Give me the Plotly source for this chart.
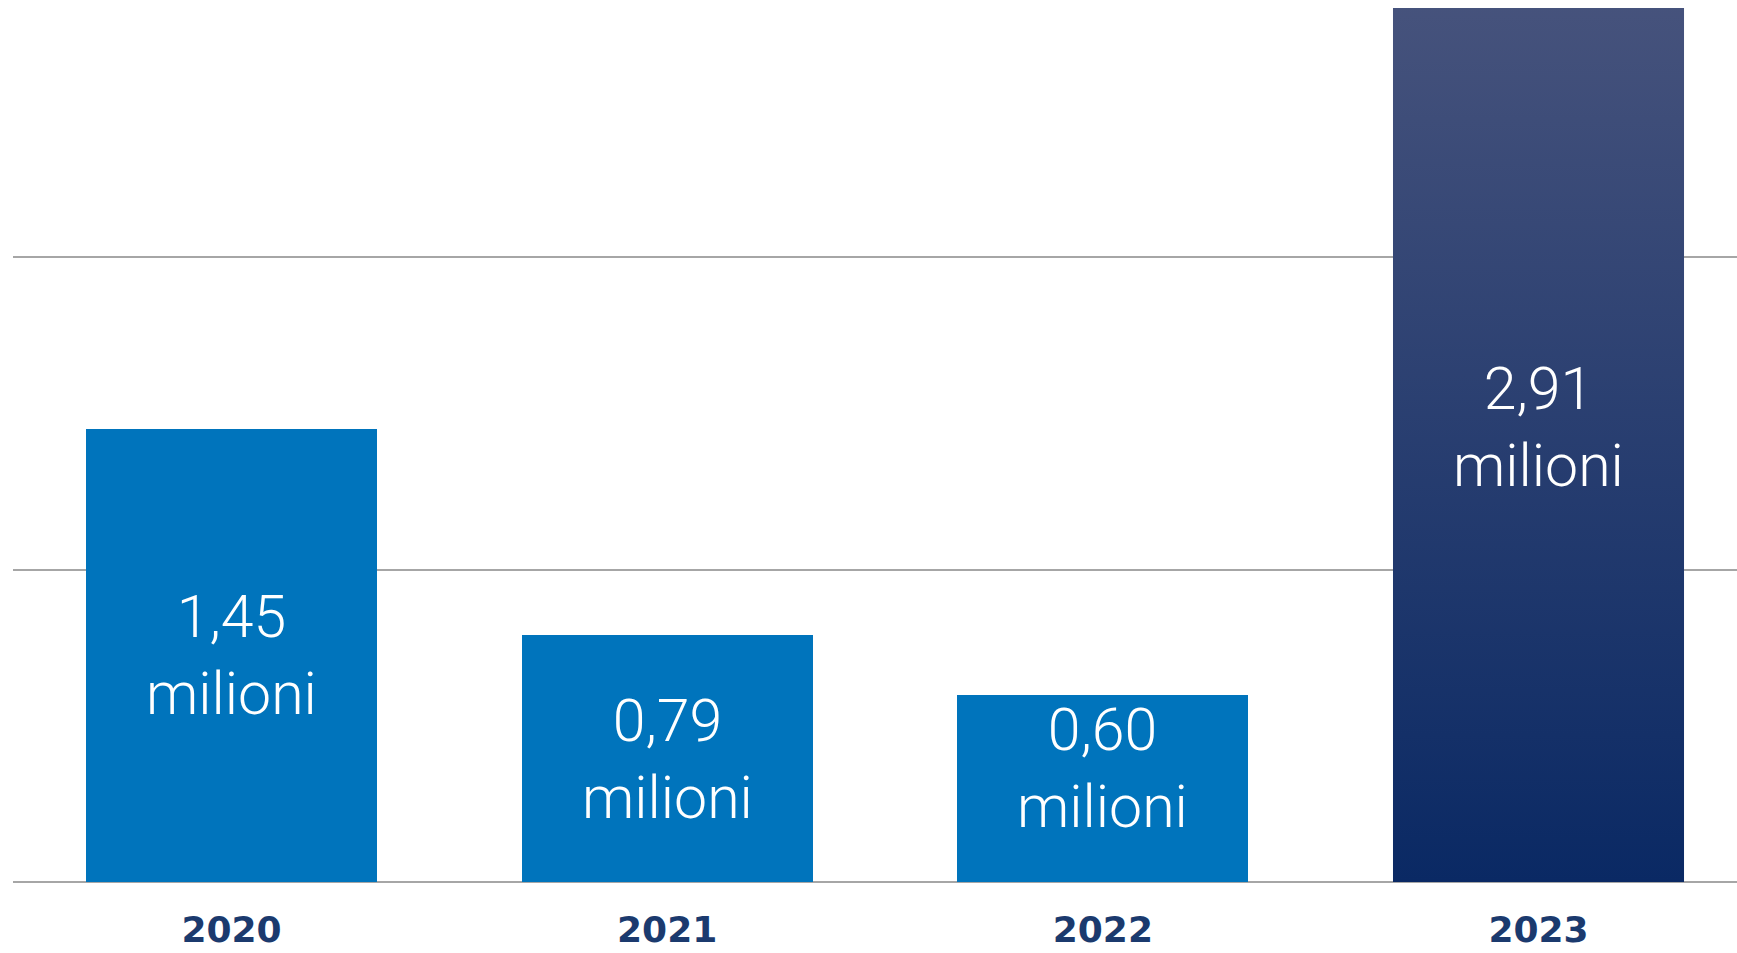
import plotly.graph_objects as go

years = ["2020", "2021", "2022", "2023"]
values = [1.45, 0.79, 0.60, 2.91]
value_labels = ["1,45", "0,79", "0,60", "2,91"]
unit_label = "milioni"

BLUE = "#0074BC"
NAVY_BOTTOM = "#0A2964"
NAVY_TOP = "#48547D"
LABEL_COLOR = "#1B3A6E"
BAR_W = 0.668

fig = go.Figure()

# regular bars (2023 drawn with gradient overlay below)
fig.add_trace(go.Bar(
    x=list(range(len(years))), y=values, width=BAR_W,
    marker=dict(color=[BLUE, BLUE, BLUE, NAVY_BOTTOM], line=dict(width=0)),
    hoverinfo="skip", showlegend=False,
))

# gradient overlay for the last bar, built from its data value
i = 3
xs = [i - BAR_W / 2, i + BAR_W / 2, i + BAR_W / 2, i - BAR_W / 2, i - BAR_W / 2]
ys = [0, 0, values[i], values[i], 0]
fig.add_trace(go.Scatter(
    x=xs, y=ys, mode="lines", fill="toself", line=dict(width=0),
    fillgradient=dict(type="vertical", colorscale=[[0, NAVY_BOTTOM], [1, NAVY_TOP]]),
    hoverinfo="skip", showlegend=False,
))

yshifts = [0, 0, 20, 0]
for k, (v, lab) in enumerate(zip(values, value_labels)):
    fig.add_annotation(
        x=k, y=v / 2, xref="x", yref="y",
        text=f"{lab}<br>{unit_label}", showarrow=False,
        font=dict(family="Roboto", size=59, color="white", weight=300),
        align="center", yshift=yshifts[k],
    )

fig.update_layout(
    width=1737, height=953,
    margin=dict(l=13, r=0, t=8, b=71),
    paper_bgcolor="white", plot_bgcolor="white",
    bargap=0,
    xaxis=dict(
        range=[-0.5015, 3.4556],
        tickmode="array", tickvals=list(range(len(years))), ticktext=years,
        tickfont=dict(family="DejaVu Sans", size=36, color=LABEL_COLOR, weight="bold"),
        showgrid=False, zeroline=False, showline=False, ticks="",
        ticklabelstandoff=23, automargin=False,
    ),
    yaxis=dict(
        range=[0, 2.797], dtick=1, showticklabels=False,
        showgrid=True, gridcolor="#A6A6A6", gridwidth=2,
        zeroline=True, zerolinecolor="#A6A6A6", zerolinewidth=2,
        showline=False, ticks="", automargin=False,
    ),
)

fig.write_html(
    "out.html",
    config={"displayModeBar": False},
    post_script="document.body.style.margin='0';document.body.style.overflow='hidden';",
)
